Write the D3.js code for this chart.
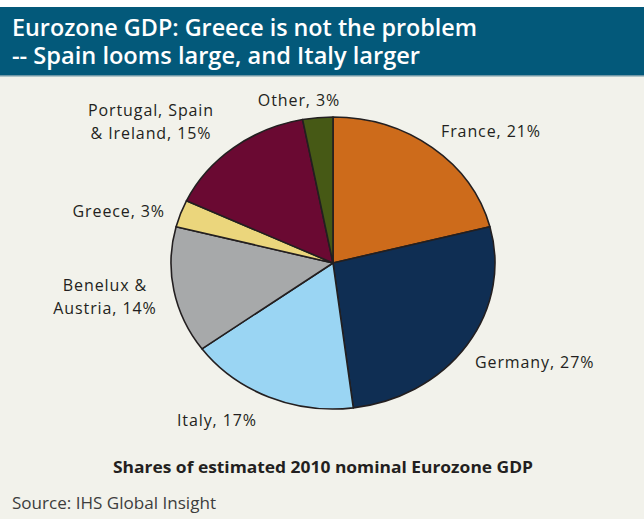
<!DOCTYPE html>
<html>
<head>
<meta charset="utf-8">
<script src="https://cdn.jsdelivr.net/npm/d3@7"></script>
<style>
  body { margin: 0; background: #fff; }
  svg { display: block; }
  .lbl { font-family: "Open Sans", "Noto Sans", sans-serif; font-size: 16px; fill: #231f20; letter-spacing: 0.9px; }
</style>
</head>
<body>
<div id="chart"></div>
<script>
// DATA
const countries = ["France", "Germany", "Italy", "Benelux & Austria", "Greece", "Portugal, Spain & Ireland", "Other"];
const shares    = [21, 27, 17, 14, 3, 15, 3];
const labelLines = [["France, 21%"], ["Germany, 27%"], ["Italy, 17%"], ["Benelux &", "Austria, 14%"],
                    ["Greece, 3%"], ["Portugal, Spain", "& Ireland, 15%"], ["Other, 3%"]];
const colors = ["#cd6b1b", "#0f2e53", "#9ad5f3", "#a7a9aa", "#ebd67c", "#6a0932", "#465915"];

// LAYOUT
const W = 644, H = 519;
const CENTER = { X: 333, Y: 263 };
const RX = 162, RY = 146;
// label anchor [x, y of first baseline, text-anchor]
const LABEL_POS = [
  [441, 137, "start"], [475, 368, "start"], [177, 426, "start"], [105, 291, "middle"],
  [165, 217, "end"], [151, 116, "middle"], [299, 106, "middle"]
];

const svg = d3.select("#chart").append("svg")
    .attr("width", W).attr("height", H);

svg.append("rect").attr("width", W).attr("height", H).attr("fill", "#f2f2eb");
svg.append("rect").attr("x", 0).attr("y", 0).attr("width", W).attr("height", 7).attr("fill", "#ffffff");
svg.append("rect").attr("x", 0).attr("y", 7).attr("width", W).attr("height", 68).attr("fill", "#03597a");
svg.append("rect").attr("x", 0).attr("y", 75).attr("width", W).attr("height", 1.5).attr("fill", "#6f97a6");

// TITLE
const titles = ["Eurozone GDP: Greece is not the problem", "-- Spain looms large, and Italy larger"];
const titleLen = [465, 408];
svg.selectAll(".title").data(titles).join("text")
    .attr("class", "title")
    .attr("x", 12)
    .attr("y", (d, i) => 36 + i * 28)
    .attr("textLength", (d, i) => titleLen[i])
    .attr("lengthAdjust", "spacingAndGlyphs")
    .style("font-family", "'Open Sans', 'Noto Sans', sans-serif")
    .style("font-weight", "600")
    .style("font-size", "23px")
    .attr("fill", "#ffffff")
    .text(d => d);

// PIE
const pie = d3.pie().sort(null).value(d => d);
const arc = d3.arc().innerRadius(0).outerRadius(RX);
const gPie = svg.append("g")
    .attr("transform", `translate(${CENTER.X}, ${CENTER.Y}) scale(1, ${RY / RX})`);

gPie.selectAll("path").data(pie(shares)).join("path")
    .attr("d", arc)
    .attr("fill", (d, i) => colors[i])
    .attr("stroke", "#231f20")
    .attr("stroke-width", 1.6)
    .attr("stroke-linejoin", "round")
    .attr("vector-effect", "non-scaling-stroke");

// LABELS
const gLabels = svg.append("g");
labelLines.forEach((lines, i) => {
  const t = gLabels.append("text").attr("class", "lbl")
      .attr("x", LABEL_POS[i][0]).attr("y", LABEL_POS[i][1])
      .attr("text-anchor", LABEL_POS[i][2]);
  lines.forEach((l, j) => {
    t.append("tspan").attr("x", LABEL_POS[i][0]).attr("dy", j === 0 ? 0 : 23).text(l);
  });
});

// SUBTITLE + SOURCE
svg.append("text")
    .attr("x", 323).attr("y", 473)
    .attr("text-anchor", "middle")
    .style("font-family", "'Open Sans', 'Noto Sans', sans-serif")
    .style("font-weight", "700")
    .style("font-size", "16px")
    .attr("textLength", 420)
    .attr("lengthAdjust", "spacingAndGlyphs")
    .attr("fill", "#231f20")
    .text("Shares of estimated 2010 nominal Eurozone GDP");

svg.append("text")
    .attr("x", 12).attr("y", 509)
    .style("font-family", "'Open Sans', 'Noto Sans', sans-serif")
    .style("font-size", "16px")
    .attr("textLength", 204)
    .attr("lengthAdjust", "spacingAndGlyphs")
    .attr("fill", "#3d3d3d")
    .text("Source: IHS Global Insight");
</script>
</body>
</html>
